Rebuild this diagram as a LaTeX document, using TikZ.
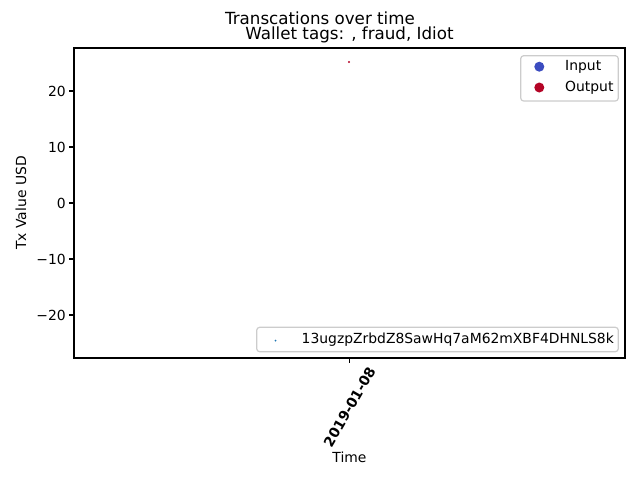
\documentclass[tikz,border=0pt]{standalone}
\usepackage{fontspec}
\setmainfont{DejaVu Sans}
\definecolor{inpc}{HTML}{3B4CC0}
\definecolor{outc}{HTML}{B40426}
\definecolor{tabblue}{HTML}{1F77B4}
\definecolor{legframe}{HTML}{CCCCCC}
\begin{document}
\begin{tikzpicture}[x=1pt,y=-1pt,
  ticklab/.style={font=\fontsize{13.9}{16}\selectfont, inner sep=0pt},
  titlelab/.style={font=\fontsize{16.7}{19}\selectfont, inner sep=0pt},
  spine/.style={line width=1.1pt, black},
  tickmark/.style={line width=1.1pt, black},
  legbox/.style={draw=legframe, fill=white, fill opacity=0.8, line width=1.2pt, rounded corners=3pt},
]
\useasboundingbox (0,0) rectangle (640,480);
% titles
\node[titlelab] (sup) at (320,18) {Transcations over time};
\node[titlelab] (ttl) at (349.5,34.5) {Wallet tags: , fraud, Idiot};
% axes frame
\coordinate (tl) at (74,48);
\coordinate (br) at (625,358);
\draw[spine] (tl) rectangle (br);
% y ticks
\foreach \v/\lab in {20/20,10/10,0/0,-10/−10,-20/−20}{
  \draw[tickmark] (74,{203-5.6*\v}) -- (69.1,{203-5.6*\v});
  \node[ticklab, anchor=east] (yt\v) at (66,{203-5.6*\v}) {\lab};
}
% x tick
\draw[tickmark] (349.5,358) -- (349.5,362.9);
\node[ticklab, font=\fontsize{13.9}{16}\selectfont\bfseries, rotate=60] (xt1) at (349.5,407) {2019-01-08};
% axis labels
\node[ticklab, rotate=90] (ylab) at (21,203) {Tx Value USD};
\node[ticklab] (xlab) at (349.5,457) {Time};
% data point
\fill[outc] (349,62) circle (1.2pt);
% legend 1
\draw[legbox] (520.7,55.7) rectangle (618.3,101);
\fill[inpc] (539.3,66.7) circle (5pt);
\fill[outc] (539.3,87.5) circle (5pt);
\node[ticklab, anchor=west] (lin) at (565,66.7) {Input};
\node[ticklab, anchor=west] (lout) at (565,87.5) {Output};
% legend 2
\draw[legbox] (256.7,327.3) rectangle (618.3,351.7);
\fill[tabblue] (275.5,340.5) circle (1pt);
\node[ticklab, anchor=west] (laddr) at (301.5,339.5) {13ugzpZrbdZ8SawHq7aM62mXBF4DHNLS8k};
\end{tikzpicture}
\end{document}
